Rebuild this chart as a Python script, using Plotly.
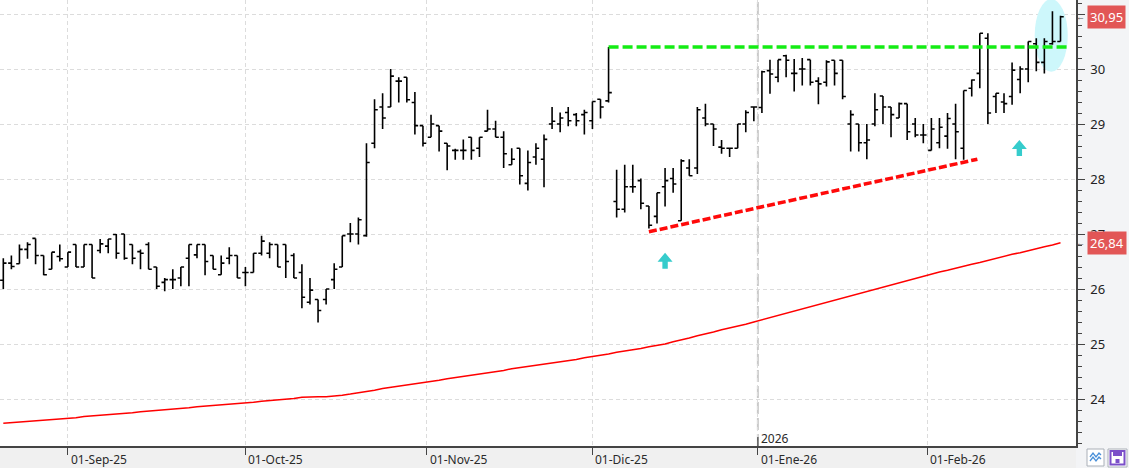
import pandas as pd
import plotly.graph_objects as go

# ---------------- data ----------------
holidays = ["2025-12-25", "2025-12-26", "2026-01-01"]
dates = [d for d in pd.bdate_range("2025-08-20", "2026-02-24")
         if d.strftime("%Y-%m-%d") not in holidays]

opens = [26.16, 26.47, 26.46, 26.72, 26.92, 26.61, 26.36, 26.59, 26.40, 26.81,
         26.40, 26.81, 26.70, 26.78, 26.99, 27.00, 26.81, 26.68, 26.81, 26.40,
         26.12, 26.17, 26.20, 26.56, 26.62, 26.81, 26.61, 26.26, 26.56, 26.61,
         26.30, 26.30, 26.65, 26.65, 26.81, 26.81, 26.61, 26.30, 25.76, 25.81,
         25.81, 26.17, 26.40, 27.00, 27.00, 26.97, 28.65, 29.31, 29.31, 29.78,
         29.85, 29.39, 28.97, 28.76, 28.97, 28.65, 28.52, 28.52, 28.76, 28.56,
         28.87, 28.91, 28.76, 28.26, 28.56, 27.92, 28.40, 28.36, 29.00, 29.00,
         29.21, 29.17, 29.17, 29.06, 29.45, 29.42, 27.59, 27.45, 27.86, 27.97,
         27.51, 27.32, 27.86, 28.01, 27.24, 28.20, 28.20, 29.11, 29.00, 28.58,
         28.56, 28.56, 29.00, 29.31, 29.30, 29.97, 29.85, 30.24, 29.92, 30.00,
         30.17, 29.78, 29.76, 30.16, 30.16, 29.00, 29.00, 28.66, 29.00, 29.51,
         29.31, 29.11, 29.37, 29.00, 28.80, 28.52, 28.66, 28.78, 29.00, 28.56,
         29.65, 29.92, 30.56, 29.50, 29.40, 29.50, 29.81, 30.00, 30.46, 30.12,
         30.46, 30.50]
highs = [26.56, 26.61, 26.81, 26.85, 26.92, 26.61, 26.67, 26.81, 26.67, 26.81,
         26.81, 26.81, 26.91, 26.91, 27.00, 27.00, 26.81, 26.72, 26.85, 26.40,
         26.20, 26.36, 26.40, 26.81, 26.81, 26.81, 26.61, 26.61, 26.76, 26.61,
         26.40, 26.65, 26.97, 26.85, 26.81, 26.81, 26.65, 26.45, 26.20, 25.81,
         26.00, 26.47, 26.97, 27.20, 27.30, 28.65, 29.45, 29.56, 30.00, 29.85,
         29.85, 29.58, 28.97, 29.17, 28.97, 28.65, 28.55, 28.72, 28.76, 28.76,
         29.26, 29.06, 28.87, 28.56, 28.56, 28.52, 28.65, 28.81, 29.31, 29.21,
         29.31, 29.20, 29.26, 29.41, 29.45, 30.40, 28.17, 28.26, 28.26, 28.01,
         27.51, 27.75, 28.20, 28.20, 28.36, 28.36, 29.31, 29.37, 29.00, 28.71,
         28.56, 29.00, 29.25, 29.31, 29.97, 30.17, 30.17, 30.26, 30.18, 30.20,
         30.17, 29.85, 30.16, 30.16, 30.16, 29.25, 29.00, 29.00, 29.56, 29.51,
         29.31, 29.39, 29.37, 29.11, 29.00, 29.11, 29.11, 29.20, 29.37, 29.61,
         29.81, 30.65, 30.65, 29.56, 29.56, 30.12, 30.05, 30.50, 30.56, 30.56,
         31.05, 30.97]
lows = [26.00, 26.36, 26.46, 26.55, 26.45, 26.25, 26.36, 26.50, 26.40, 26.40,
        26.40, 26.20, 26.65, 26.65, 26.55, 26.53, 26.45, 26.36, 26.36, 26.00,
        25.96, 26.00, 26.05, 26.05, 26.56, 26.25, 26.36, 26.26, 26.45, 26.20,
        26.05, 26.30, 26.61, 26.56, 26.40, 26.20, 26.20, 25.65, 25.72, 25.39,
        25.72, 26.00, 26.40, 26.85, 26.81, 26.95, 28.56, 28.91, 29.31, 29.39,
        29.39, 28.81, 28.59, 28.76, 28.50, 28.16, 28.35, 28.35, 28.35, 28.40,
        28.87, 28.76, 28.20, 28.26, 27.90, 27.79, 28.26, 27.85, 28.91, 28.85,
        28.96, 28.96, 28.81, 28.91, 29.10, 29.39, 27.30, 27.39, 27.75, 27.45,
        27.10, 27.19, 27.50, 27.75, 27.24, 28.06, 28.09, 28.96, 28.60, 28.46,
        28.40, 28.56, 28.85, 29.05, 29.20, 29.55, 29.76, 29.85, 29.59, 29.70,
        29.70, 29.36, 29.68, 29.70, 29.45, 28.50, 28.50, 28.36, 28.96, 29.00,
        28.76, 29.11, 28.71, 28.76, 28.65, 28.52, 28.56, 28.55, 28.36, 28.35,
        29.50, 29.65, 29.00, 29.20, 29.20, 29.35, 29.56, 29.76, 29.96, 29.92,
        30.44, 30.50]
closes = [26.47, 26.41, 26.72, 26.81, 26.61, 26.26, 26.67, 26.55, 26.67, 26.40,
          26.81, 26.20, 26.82, 26.91, 26.65, 26.56, 26.56, 26.65, 26.36, 26.05,
          26.17, 26.17, 26.40, 26.81, 26.81, 26.50, 26.36, 26.47, 26.61, 26.20,
          26.30, 26.65, 26.87, 26.81, 26.40, 26.50, 26.20, 25.85, 25.98, 25.61,
          26.00, 26.36, 26.97, 27.00, 27.26, 28.30, 29.26, 29.11, 29.87, 29.78,
          29.44, 28.97, 28.65, 29.00, 28.87, 28.60, 28.52, 28.52, 28.52, 28.76,
          28.91, 28.76, 28.46, 28.36, 28.06, 28.30, 28.56, 28.72, 29.05, 29.11,
          29.06, 29.06, 29.21, 29.41, 29.31, 29.57, 27.45, 27.86, 27.86, 27.56,
          27.16, 27.75, 27.97, 27.91, 28.33, 28.06, 29.26, 29.00, 28.91, 28.56,
          28.56, 29.00, 29.21, 29.31, 29.95, 29.91, 30.17, 30.16, 29.92, 30.00,
          29.76, 29.73, 30.13, 29.92, 29.50, 29.17, 28.66, 28.71, 29.26, 29.31,
          29.17, 29.37, 28.86, 28.80, 28.80, 28.91, 28.94, 29.10, 28.86, 29.61,
          29.80, 30.65, 29.20, 29.56, 29.37, 29.98, 30.00, 30.50, 30.12, 30.50,
          30.50, 30.95]
ma200 = [23.56, 23.57, 23.58, 23.59, 23.60, 23.61, 23.62, 23.64, 23.65, 23.66,
         23.68, 23.69, 23.70, 23.71, 23.73, 23.74, 23.75, 23.77, 23.78, 23.79,
         23.80, 23.82, 23.83, 23.84, 23.86, 23.87, 23.88, 23.89, 23.91, 23.92,
         23.93, 23.94, 23.96, 23.97, 23.98, 24.00, 24.01, 24.03, 24.04, 24.04,
         24.04, 24.05, 24.07, 24.09, 24.11, 24.14, 24.16, 24.19, 24.21, 24.23,
         24.25, 24.28, 24.30, 24.32, 24.34, 24.37, 24.39, 24.41, 24.43, 24.45,
         24.48, 24.50, 24.52, 24.55, 24.57, 24.59, 24.61, 24.64, 24.66, 24.68,
         24.70, 24.72, 24.75, 24.77, 24.80, 24.82, 24.85, 24.87, 24.90, 24.92,
         24.95, 24.97, 25.00, 25.04, 25.07, 25.11, 25.15, 25.18, 25.22, 25.26,
         25.29, 25.33, 25.36, 25.40, 25.44, 25.48, 25.52, 25.56, 25.60, 25.64,
         25.68, 25.72, 25.76, 25.79, 25.83, 25.87, 25.91, 25.95, 25.99, 26.03,
         26.07, 26.11, 26.15, 26.19, 26.23, 26.27, 26.31, 26.34, 26.38, 26.41,
         26.45, 26.48, 26.52, 26.56, 26.59, 26.63, 26.66, 26.70, 26.73, 26.77,
         26.80, 26.84]

month_starts = ["2025-09-01", "2025-10-01", "2025-11-01", "2025-12-01", "2026-01-01", "2026-02-01"]
month_labels = ["01-Sep-25", "01-Oct-25", "01-Nov-25", "01-Dic-25", "01-Ene-26", "01-Feb-26"]
year_label = "2026"
price_ticks = [24, 25, 26, 27, 28, 29, 30, 31]
price_tick_text = ["24", "25", "26", "27", "28", "29", "30", ""]

resistance_x = [75, 131.8]
resistance_y = [30.40, 30.40]
support_x = [80, 120.7]
support_y = [27.04, 28.36]
arrow_x = [82, 125.9]
arrow_y = [26.66, 28.71]
highlight_x = [127.8, 131.9]
highlight_y = [29.95, 31.27]

# ---------------- helpers ----------------
idx = list(range(len(dates)))
date_str = [d.strftime("%Y-%m-%d") for d in dates]


def month_pos(s):
    if s in date_str:
        return date_str.index(s)
    ts = pd.Timestamp(s)
    nxt = next(i for i, d in enumerate(dates) if d > ts)
    return nxt - 0.5


tick_pos = [month_pos(s) for s in month_starts]
year_pos = tick_pos[month_labels.index("01-Ene-26")]

W, H = 1129, 468
PW, PH = 1076, 446
FONT = "Noto Sans"


def px(x):
    return x / PW


def py(y):
    return (PH - y) / PH


fig = go.Figure()

fig.add_trace(go.Scatter(x=idx, y=ma200, mode="lines",
                         line=dict(color="#ff0000", width=1.5), hoverinfo="skip"))
fig.add_trace(go.Scatter(x=resistance_x, y=resistance_y, mode="lines",
                         line=dict(color="#14ec14", width=3.5, dash="10px,4px"), hoverinfo="skip"))
fig.add_trace(go.Scatter(x=support_x, y=support_y, mode="lines",
                         line=dict(color="#ff0a0a", width=3.5, dash="8px,3px"), hoverinfo="skip"))
fig.add_trace(go.Ohlc(x=idx, open=opens, high=highs, low=lows, close=closes,
                      increasing=dict(line=dict(color="black", width=1.6)),
                      decreasing=dict(line=dict(color="black", width=1.6)),
                      tickwidth=0.4, hoverinfo="skip"))

shapes = []
# highlight ellipse
shapes.append(dict(type="circle", xref="x", yref="y",
                   x0=highlight_x[0], x1=highlight_x[1], y0=highlight_y[0], y1=highlight_y[1],
                   fillcolor="#cdf7fb", line=dict(width=0), layer="between"))
# arrows
for ax_, ay_ in zip(arrow_x, arrow_y):
    shapes.append(dict(type="path", xref="x", yref="y", xsizemode="pixel", ysizemode="pixel",
                       xanchor=ax_, yanchor=ay_,
                       path="M0,0 L7.5,-9 L2.7,-9 L2.7,-16 L-2.7,-16 L-2.7,-9 L-7.5,-9 Z",
                       fillcolor="#36cccc", line=dict(width=0), layer="above"))
# darker year separator
shapes.append(dict(type="line", xref="x", yref="paper", x0=year_pos, x1=year_pos, y0=0, y1=1,
                   line=dict(color="#c9c9c9", width=2, dash="12px,4px"), layer="between"))
# year tick above axis
shapes.append(dict(type="line", xref="x", yref="paper", x0=year_pos, x1=year_pos,
                   y0=py(446), y1=py(437), line=dict(color="#444", width=1.2), layer="above"))
# bottom band
shapes.append(dict(type="rect", xref="paper", yref="paper", x0=px(-2), x1=px(1076), y0=py(468), y1=py(446),
                   fillcolor="#f0f0f0", line=dict(width=0), layer="below"))
# icons
shapes.append(dict(type="rect", xref="paper", yref="paper", x0=px(1087), x1=px(1104), y0=py(466), y1=py(449),
                   fillcolor="white", line=dict(color="#aab0b8", width=1)))
shapes.append(dict(type="path", xref="paper", yref="paper",
                   path=f"M{px(1090)},{py(457)} L{px(1093)},{py(453)} L{px(1096)},{py(457)} L{px(1099)},{py(453)} L{px(1101)},{py(455)}",
                   line=dict(color="#4a90d9", width=1.3)))
shapes.append(dict(type="path", xref="paper", yref="paper",
                   path=f"M{px(1090)},{py(461)} L{px(1093)},{py(457)} L{px(1096)},{py(461)} L{px(1099)},{py(457)} L{px(1101)},{py(459)}",
                   line=dict(color="#4a90d9", width=1.3)))
shapes.append(dict(type="rect", xref="paper", yref="paper", x0=px(1108), x1=px(1127), y0=py(467), y1=py(449),
                   fillcolor="white", line=dict(color="#aab0b8", width=1)))
shapes.append(dict(type="rect", xref="paper", yref="paper", x0=px(1110.5), x1=px(1124.5), y0=py(464.5), y1=py(451),
                   fillcolor="rgba(0,0,0,0)", line=dict(color="#7b4fc9", width=2)))
shapes.append(dict(type="rect", xref="paper", yref="paper", x0=px(1113), x1=px(1122), y0=py(456), y1=py(451),
                   fillcolor="#7b4fc9", line=dict(width=0)))
shapes.append(dict(type="rect", xref="paper", yref="paper", x0=px(1115.5), x1=px(1119.5), y0=py(463), y1=py(459),
                   fillcolor="#7b4fc9", line=dict(width=0)))

annotations = []
for pos, lab in zip(tick_pos, month_labels):
    annotations.append(dict(x=pos, y=py(459), xref="x", yref="paper", text=lab, showarrow=False,
                            xanchor="left", yanchor="middle", xshift=1,
                            font=dict(family=FONT, size=12, color="#2a2a2a")))
annotations.append(dict(x=year_pos, y=py(438.5), xref="x", yref="paper", text=year_label, showarrow=False,
                        xanchor="left", yanchor="middle", xshift=1,
                        font=dict(family=FONT, size=12, color="#2a2a2a")))
for val in [closes[-1], ma200[-1]]:
    annotations.append(dict(x=px(1087), y=val, xref="paper", yref="y",
                            text=f"{val:.2f}".replace(".", ","), showarrow=False,
                            xanchor="left", yanchor="middle", bgcolor="#e25656", borderpad=2,
                            font=dict(family=FONT, size=13, color="white")))
    annotations.append(dict(x=px(1080.5), y=val, xref="paper", yref="y", text="←", showarrow=False,
                            xanchor="center", yanchor="middle",
                            font=dict(family=FONT, size=9, color="#555")))

fig.update_layout(
    width=W, height=H,
    margin=dict(l=0, r=W - PW, t=0, b=H - PH),
    paper_bgcolor="#f3f4f6", plot_bgcolor="white",
    showlegend=False,
    shapes=shapes, annotations=annotations,
    xaxis=dict(range=[-0.41, 132.92], tickmode="array", tickvals=tick_pos, showticklabels=False,
               ticks="outside", ticklen=7, tickcolor="#444", tickwidth=1,
               showgrid=True, gridcolor="#dcdcdc", griddash="4px,3px", gridwidth=1,
               showline=True, linecolor="#444", linewidth=1.5, zeroline=False,
               rangeslider=dict(visible=False), fixedrange=True),
    yaxis=dict(range=[23.1455, 31.2545], side="right", tickmode="array",
               tickvals=price_ticks, ticktext=price_tick_text,
               ticks="outside", ticklen=7, tickcolor="#444", tickwidth=1,
               minor=dict(dtick=0.2, tick0=0, ticks="outside", ticklen=4, tickcolor="#444", showgrid=False),
               showgrid=True, gridcolor="#dcdcdc", griddash="4px,3px", gridwidth=1,
               showline=True, linecolor="#444", linewidth=1.5, zeroline=False,
               ticklabelstandoff=3,
               tickfont=dict(family=FONT, size=13, color="#222"), fixedrange=True),
)

fig.write_html("out.html")
